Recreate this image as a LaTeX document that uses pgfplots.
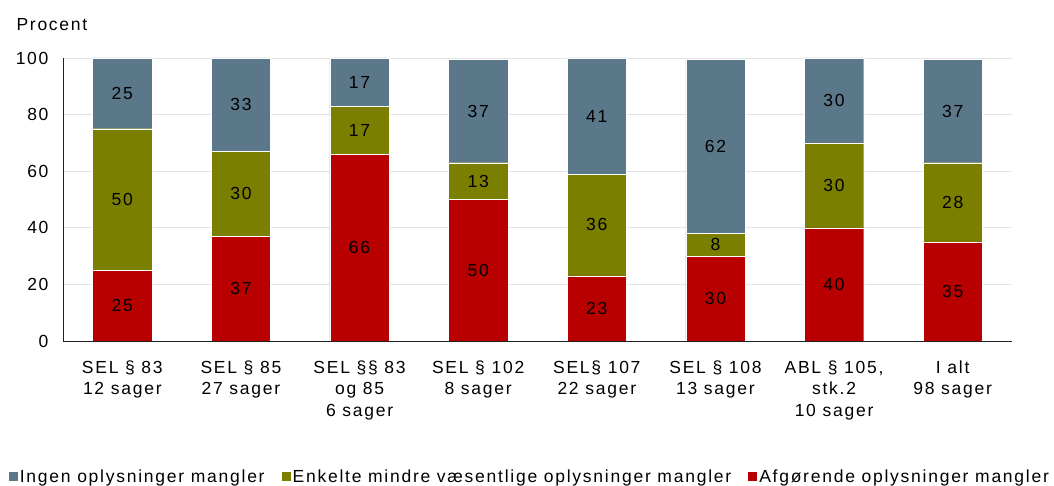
\documentclass[border=0pt]{standalone}
\usepackage{fontspec}
\setmainfont[LetterSpace=10]{Liberation Sans}
\usepackage{pgfplots}
\pgfplotsset{compat=1.18}
\usepackage{pgfplotstable}
\definecolor{cblue}{RGB}{91,120,138}
\definecolor{cgreen}{RGB}{122,127,0}
\definecolor{cred}{RGB}{184,0,0}
\definecolor{gridc}{RGB}{228,228,228}
\definecolor{axc}{RGB}{35,31,32}
\newcommand\fsz{\fontsize{17.5pt}{21.5pt}\selectfont}

\pgfplotstableread{
x red green blue
0 25 50 25
1 37 30 33
2 66 17 17
3 50 13 36.4
4 23 36 41
5 30 8 61.4
6 40 30 30
7 35 28 36.4
}\data

\pgfplotstableread{
x y lab
0 12.5 25
0 50 50
0 87.5 25
1 18.5 37
1 52 30
1 83.5 33
2 33 66
2 74.5 17
2 91.5 17
3 25 50
3 56.5 13
3 81.2 37
4 11.5 23
4 41 36
4 79.5 41
5 15 30
5 34 8
5 68.7 62
6 20 40
6 55 30
6 85 30
7 17.5 35
7 49 28
7 81.2 37
}\labels

\begin{document}
\begin{tikzpicture}
\useasboundingbox (-63pt,-145pt) rectangle (991pt,341pt);
\begin{axis}[
  at={(0pt,0pt)}, anchor=south west,
  scale only axis, width=949pt, height=283pt,
  ybar stacked, bar width=0.5,
  xmin=-0.5, xmax=7.5, ymin=0, ymax=100,
  xtick={0,...,7},
  xticklabels={{SEL § 83\\12 sager},{SEL § 85\\27 sager},{SEL §§ 83\\og 85\\6 sager},{SEL § 102\\8 sager},{SEL§ 107\\22 sager},{SEL § 108\\13 sager},{ABL § 105,\\stk.2\\10 sager},{I alt\\98 sager}},
  xticklabel style={align=center, yshift=-16pt},
  yticklabel style={xshift=-11pt},
  ytick={0,20,...,100},
  ymajorgrids, grid style={gridc, line width=0.8pt},
  axis x line*=bottom, axis y line*=left,
  axis line style={axc, line width=0.8pt, -},
  major tick length=0pt,
  tick label style={font=\fsz},
  /pgf/number format/assume math mode=true,
  legend style={at={(0.492,-0.48)}, anchor=center, draw=none, fill=none,
    legend columns=3, font=\fsz,
    /tikz/every even column/.append style={column sep=15pt}},
  legend cell align=left,
  reverse legend,
  legend image code/.code={\path[#1, draw=none] (0pt,-4.5pt) rectangle (9pt,4.5pt);},
]
\addplot[fill=cred, draw=white, line width=0.4pt] table[x=x, y=red] {\data};
\addlegendentry{Afgørende oplysninger mangler}
\addplot[fill=cgreen, draw=white, line width=0.4pt] table[x=x, y=green] {\data};
\addlegendentry{Enkelte mindre væsentlige oplysninger mangler}
\addplot[fill=cblue, draw=white, line width=0.4pt] table[x=x, y=blue] {\data};
\addlegendentry{Ingen oplysninger mangler}
\end{axis}
\begin{axis}[
  at={(0pt,0pt)}, anchor=south west,
  scale only axis, width=949pt, height=283pt,
  xmin=-0.5, xmax=7.5, ymin=0, ymax=100,
  hide axis,
]
\addplot[draw=none, mark=none, nodes near coords, point meta=explicit symbolic,
  every node near coord/.append style={anchor=center, font=\fsz, text=black}]
  table[x=x, y=y, meta=lab] {\labels};
\end{axis}
\node[anchor=base west, font=\fsz] at (-50pt,310pt) {Procent};
\end{tikzpicture}
\end{document}
